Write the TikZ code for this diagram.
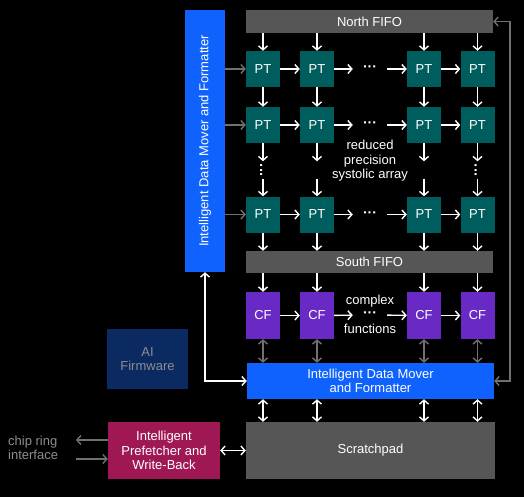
\documentclass[tikz,border=0pt]{standalone}
\usepackage{fontspec}
\setmainfont{Liberation Sans}
\usetikzlibrary{arrows.meta,calc}
\definecolor{ibmblue}{HTML}{0F62FE}
\definecolor{ibmteal}{HTML}{005D5D}
\definecolor{ibmpurple}{HTML}{6929C4}
\definecolor{ibmgray}{HTML}{565656}
\definecolor{ibmmag}{HTML}{9F1853}
\definecolor{ibmnavy}{HTML}{0B2A62}
\definecolor{arrgray}{HTML}{707070}
\definecolor{txtgray}{HTML}{8D8D8D}
\newcommand{\lblfont}{\fontsize{13}{14.5}\selectfont}
\newcommand{\dotsfont}{\fontsize{14}{14}\selectfont\bfseries}
\tikzset{
  box/.style={inner sep=0pt, align=center, text=white, font=\lblfont},
  ptbox/.style={box, fill=ibmteal, minimum width=34pt, minimum height=36pt},
  cfbox/.style={box, fill=ibmpurple, minimum width=34pt, minimum height=47pt},
  dotsnode/.style={inner sep=0pt, minimum width=34pt, minimum height=14pt, text=white, font=\dotsfont},
  vgap/.style={inner sep=0pt, minimum width=6pt, minimum height=17pt, text=white, font=\dotsfont},
  warr/.style={draw=white, line width=1.4pt, -{Straight Barb[length=4pt,width=9pt,line width=1.4pt]}},
  wdarr/.style={draw=white, line width=1.4pt, {Straight Barb[length=4pt,width=9pt,line width=1.4pt]}-{Straight Barb[length=4pt,width=9pt,line width=1.4pt]}},
  garr/.style={draw=arrgray, line width=1.4pt, -{Straight Barb[length=4pt,width=9pt,line width=1.4pt]}},
  gdarr/.style={draw=arrgray, line width=1.4pt, {Straight Barb[length=4pt,width=9pt,line width=1.4pt]}-{Straight Barb[length=4pt,width=9pt,line width=1.4pt]}},
}
\begin{document}
\begin{tikzpicture}[x=1pt,y=-1pt]
\fill[black] (0,0) rectangle (524,497);
\useasboundingbox (0,0) rectangle (524,497);

% big boxes
\node[box, fill=ibmblue, minimum width=40pt, minimum height=262pt] (vidmf) at (205,141) {};
\node[rotate=90, text=white, font=\lblfont] at (vidmf.center) {Intelligent Data Mover and Formatter};
\node[box, fill=ibmgray, minimum width=247pt, minimum height=23pt] (nfifo) at (369.5,21.5) {North FIFO};
\node[box, fill=ibmgray, minimum width=247pt, minimum height=22pt] (sfifo) at (369.5,262) {South FIFO};
\node[box, fill=ibmblue, minimum width=247pt, minimum height=36pt] (idmf) at (370.5,381) {Intelligent Data Mover\\and Formatter};
\node[box, fill=ibmgray, minimum width=249pt, minimum height=57pt] (sp) at (370.5,450.5) {Scratchpad};
\node[box, fill=ibmmag, minimum width=112pt, minimum height=57pt] (pf) at (164,450.5) {Intelligent\\Prefetcher and\\Write-Back};
\node[box, fill=ibmnavy, text=txtgray, minimum width=81pt, minimum height=60pt] (fw) at (147.5,359) {AI\\Firmware};
\node[inner sep=0pt, align=left, text=txtgray, font=\lblfont, anchor=west] (chip) at (8,448) {chip ring\\interface};

% PT grid
\foreach \r/\y in {1/69,2/125,3/214.5}{
  \node[ptbox] (pt\r1) at (263,\y) {PT};
  \node[ptbox] (pt\r2) at (317,\y) {PT};
  \node[ptbox] (pt\r3) at (424,\y) {PT};
  \node[ptbox] (pt\r4) at (477.5,\y) {PT};
  \node[dotsnode] (hd\r) at (370,\y) {···};
  \draw[warr] (pt\r1) -- (pt\r2);
  \draw[warr] (pt\r2) -- (hd\r);
  \draw[warr] (hd\r) -- (pt\r3);
  \draw[warr] (pt\r3) -- (pt\r4);
  \draw[garr] (vidmf.east |- pt\r1) -- (pt\r1.west);
}
% vertical dots / gaps between row 2 and 3
\node[vgap] (vg1) at (263,170) {\rotatebox{90}{···}};
\node[vgap] (vg2) at (317,170) {};
\node[vgap] (vg3) at (424,170) {};
\node[vgap] (vg4) at (477.5,170) {\rotatebox{90}{···}};

% CF row
\node[cfbox] (cf1) at (263,315.5) {CF};
\node[cfbox] (cf2) at (317,315.5) {CF};
\node[cfbox] (cf3) at (424,315.5) {CF};
\node[cfbox] (cf4) at (477.5,315.5) {CF};
\node[dotsnode] (hdc) at (370,315) {···};
\node[text=white, font=\lblfont, inner sep=0pt] (cplx) at (370,301) {complex};
\node[text=white, font=\lblfont, inner sep=0pt] (func) at (370,329) {functions};
\draw[warr] (cf1) -- (cf2);
\draw[warr] (cf2) -- (hdc);
\draw[warr] (hdc) -- (cf3);
\draw[warr] (cf3) -- (cf4);

\node[text=white, font=\lblfont, align=center, inner sep=0pt] (rpsa) at (370,161) {reduced\\precision\\systolic array};

% vertical arrows
\foreach \c in {1,2,3,4}{
  \draw[warr] (nfifo.south -| pt1\c) -- (pt1\c.north);
  \draw[warr] (pt1\c) -- (pt2\c);
  \draw[warr] (pt2\c) -- (vg\c);
  \draw[warr] (vg\c) -- (pt3\c);
  \draw[warr] (pt3\c) -- (sfifo.north -| pt3\c);
  \draw[warr] (sfifo.south -| cf\c) -- (cf\c.north);
  \draw[gdarr] (cf\c.south) -- (idmf.north -| cf\c);
  \draw[wdarr] (idmf.south -| cf\c) -- (sp.north -| cf\c);
}

% loops
\coordinate (fb) at (510,21.5);
\draw[gdarr] (nfifo.east) -- (fb) |- (idmf.east);
\draw[wdarr] (vidmf.south) |- (idmf.west);

% prefetcher
\draw[wdarr] (pf.east) -- (sp.west);
\coordinate (cin) at (76,440);
\coordinate (cout) at (76,459);
\draw[garr] (pf.west |- cin) -- (cin);
\draw[garr] (cout) -- (pf.west |- cout);
\end{tikzpicture}
\end{document}
